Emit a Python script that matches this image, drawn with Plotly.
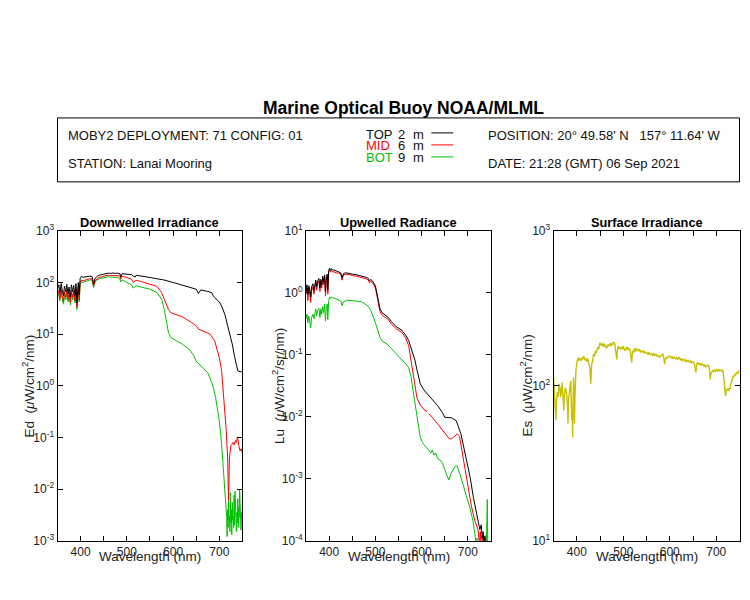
import plotly.graph_objects as go

W, H = 750, 600

# ---------------- DATA ----------------
# Downwelled irradiance Ed (uW/cm^2/nm)
ed_top_wl = [350,353,355,358,360,363,365,368,370,373,375,378,380,383,385,388,390,392,395,397,399,402,405,410,415,420,425,428,431,435,440,445,450,455,460,465,470,475,480,485,487,490,495,500,505,510,514,518,520,530,540,550,565,580,600,620,640,650,655,660,675,684,687,690,700,705,712,718,722,728,733,737,740,745,750]
ed_top = [75,90,62,95,72,55,85,66,92,60,82,52,90,66,88,56,95,40,100,58,120,132,126,128,131,133,130,95,118,130,138,141,148,150,152,150,153,150,152,148,128,148,146,145,141,142,132,128,138,135,130,125,118,112,100,88,78,74,61,72,67,63,55,51,42,35,24,14.5,11.5,6.4,3.7,2.4,1.95,1.87,1.87]

ed_mid_wl = [350,353,355,358,360,363,365,368,370,373,375,378,380,383,385,388,390,392,395,397,399,402,405,410,415,420,425,428,431,435,440,445,450,455,460,465,470,475,480,485,487,490,495,500,505,510,514,518,520,530,540,550,565,575,582,590,595,605,620,640,650,655,665,680,690,700,705,710,715,718,720,722,725,728,730,732,735,737,739,741,742,745,747,750]
ed_mid = [58,70,48,75,56,42,66,52,72,47,64,41,70,52,68,44,75,33,80,46,100,112,108,112,115,118,117,85,108,118,126,128,134,136,138,137,139,137,138,134,116,132,128,124,118,116,100,104,110,105,99,93,84,64,44,30,26,24,21.7,16.8,14.5,12.5,11.3,10,7.4,3.5,1.95,0.59,0.135,0.041,0.006,0.04,0.069,0.075,0.08,0.072,0.087,0.08,0.1,0.085,0.069,0.055,0.06,0.05]

ed_bot_wl = [350,353,355,358,360,363,365,368,370,373,375,378,380,383,385,388,390,392,395,397,399,402,405,410,415,420,425,428,431,435,440,445,450,455,460,465,470,475,480,485,487,490,495,500,505,510,514,518,520,530,540,550,565,575,580,585,590,595,605,620,635,645,650,655,665,675,685,692,700,705,710,714,716,717,718,719,720,721,722,723,724,725,726,727,728,729,730,731,732,733,734,735,736,737,738,739,740,741,742,743,744,745,746,747,748,749,750]
ed_bot = [52,62,44,66,50,38,58,46,64,42,57,37,62,46,60,40,66,30,72,42,92,104,100,105,108,112,111,80,102,112,118,120,126,127,129,127,128,125,124,118,102,112,106,100,95,90,78,82,86,82,78,74,64,48,33,18,10.8,8.6,7.7,6.4,5.1,3.8,3.0,2.7,2.26,1.8,1.08,0.59,0.21,0.074,0.017,0.006,0.0028,0.0012,0.004,0.0018,0.0065,0.0025,0.003,0.0015,0.0085,0.0022,0.004,0.0013,0.0055,0.0025,0.003,0.0018,0.0075,0.002,0.009,0.0028,0.005,0.0015,0.0035,0.0022,0.0065,0.0018,0.0045,0.0028,0.0095,0.003,0.0042,0.0016,0.0035,0.0024,0.004]

# Upwelled radiance Lu (uW/cm^2/sr/nm)
lu_top_wl = [350,352,354,356,358,360,362,365,367,369,371,373,375,378,380,382,384,386,388,390,392,394,396,397,399,401,403,405,408,410,415,420,425,428,431,435,440,445,450,455,460,465,470,475,480,485,487,490,495,500,505,510,514,520,528,535,546,557,565,572,579,585,590,597,605,620,635,645,650,665,675,685,695,705,712,718,722,726,729,731,733,735,737,739,742]
lu_top = [1.05,1.35,0.95,1.3,1.15,0.85,1.25,1.4,1.1,1.45,1.6,1.25,1.55,1.7,1.2,1.65,1.35,1.85,1.5,1.95,1.05,1.9,2.0,1.1,2.3,2.5,2.3,2.45,2.3,2.35,2.25,2.2,2.1,1.75,2.05,2.1,2.1,2.05,2.0,2.0,1.95,1.9,1.88,1.82,1.78,1.7,1.55,1.65,1.5,1.3,0.85,0.55,0.48,0.45,0.4,0.34,0.28,0.25,0.21,0.17,0.12,0.085,0.057,0.034,0.027,0.0205,0.015,0.0117,0.0098,0.0096,0.0086,0.0053,0.0025,0.00105,0.0005,0.0003,0.00021,0.00015,0.00018,0.00011,0.00014,0.00009,0.00012,0.00007,0.00005]

lu_mid_wl = [350,352,354,356,358,360,362,365,367,369,371,373,375,378,380,382,384,386,388,390,392,394,396,397,399,401,403,405,408,410,415,420,425,428,431,435,440,445,450,455,460,465,470,475,480,485,487,490,495,500,505,510,514,520,528,535,546,557,565,572,579,585,590,597,605,612,613,615,620,635,650,660,665,672,677,682,690,700,708,715,722,725,727,729,731,733,736,738,741,743,746,750]
lu_mid = [0.95,1.2,0.75,1.15,1.0,0.7,1.1,1.25,0.95,1.3,1.45,1.1,1.4,1.55,1.05,1.5,1.2,1.7,1.35,1.8,0.9,1.75,1.85,0.95,2.15,2.35,2.15,2.3,2.15,2.2,2.1,2.08,2.0,1.6,1.95,2.0,2.0,1.95,1.9,1.9,1.85,1.8,1.78,1.72,1.68,1.6,1.45,1.55,1.4,1.2,0.78,0.5,0.44,0.41,0.37,0.31,0.26,0.23,0.19,0.14,0.0625,0.032,0.02,0.0155,0.013,0.0122,None,0.0112,0.0104,0.0076,0.0056,0.0044,0.0044,0.005,0.0053,0.0048,0.0022,0.00072,0.00035,0.00021,0.00015,0.00009,0.00014,0.00007,0.00012,0.00008,0.00011,0.00006,0.0001,0.00007,0.00009,0.00006]

lu_bot_wl = [350,352,354,356,358,360,362,365,367,369,371,373,375,378,380,382,384,386,388,390,392,394,396,397,399,401,403,405,408,410,415,420,425,428,431,435,440,445,450,455,460,465,470,475,480,485,490,495,500,505,510,515,525,535,545,555,565,572,577,582,587,592,597,602,607,612,617,620,623,627,630,635,640,645,650,655,659,663,668,673,677,681,686,690,693,698,704,711,715,718,720,722,740,742,743,746]
lu_bot = [0.38,0.45,0.33,0.42,0.35,0.27,0.4,0.45,0.38,0.5,0.55,0.42,0.52,0.56,0.4,0.55,0.45,0.6,0.48,0.65,0.35,0.62,0.66,0.37,0.75,0.85,0.8,0.86,0.82,0.83,0.8,0.78,0.74,0.62,0.72,0.74,0.76,0.75,0.74,0.75,0.73,0.72,0.72,0.68,0.64,0.6,0.52,0.42,0.33,0.25,0.19,0.165,0.15,0.125,0.105,0.088,0.072,0.0625,0.045,0.025,0.014,0.0075,0.0047,0.0038,0.0034,0.003,0.0028,0.0026,0.0029,0.0024,0.0026,0.0021,0.002,0.0018,0.0014,0.0011,0.00095,0.0012,0.0014,0.0016,0.0016,0.0013,0.00105,0.0008,0.00065,0.0005,0.00035,0.00021,0.00013,0.00009,0.00011,0.00007,0.00007,0.00046,0.00008,0.00006]

# Surface irradiance Es (uW/cm^2/nm)
es_wl = [350,351,352,354,355,356,358,360,362,364,365,367,368,370,372,373,375,377,378,380,381,382,384,386,387,388,389,390,391,392,393,394,395,396,397,398,400,402,403,405,407,408,410,412,413,415,417,418,420,422,423,425,427,428,429,430,431,432,434,436,438,440,442,443,445,447,448,450,452,453,455,457,458,460,462,463,465,467,468,470,472,473,475,477,478,480,482,483,485,486,487,488,490,492,493,495,497,498,500,502,503,505,507,508,510,512,513,515,516,517,518,519,520,522,523,525,527,528,530,533,535,537,540,543,545,547,550,553,555,557,560,563,565,567,570,573,575,577,580,582,585,587,588,589,590,592,595,597,600,603,605,607,610,613,615,617,620,623,625,627,630,633,635,637,640,643,645,647,650,652,654,656,657,658,660,663,665,667,670,673,675,677,680,682,684,685,686,687,688,690,692,694,696,698,700,703,705,707,710,712,714,715,716,717,718,719,720,721,722,723,725,727,728,730,731,733,735,737,738,740,742,743,745,747,748,750]
es = [113,100,84,75,60,78,91,85,103,95,84,92,105,88,69,85,97,93,89,75,57,80,97,102,108,85,60,70,46.5,80,113,90,57,85,108,125,141,150,145,152,146,150,145,153,148,155,150,146,148,143,150,141,136,131,115,103,120,138,145,160,155,168,163,170,177,172,183,190,182,186,181,188,178,186,180,176,177,185,180,184,188,181,186,183,190,190,186,172,160,148,165,177,180,172,176,172,178,172,181,175,168,172,178,170,177,170,174,168,160,150,141,155,168,163,172,172,166,175,172,168,172,165,168,164,168,163,164,160,165,159,161,157,162,156,160,155,158,153,155,158,160,152,145,138,145,152,150,155,155,151,154,150,153,149,152,148,152,147,150,145,148,144,147,143,146,142,145,141,143,140,133,122,130,138,141,137,140,136,138,134,137,133,134,136,133,130,118,110,118,122,126,123,127,124,127,124,128,125,127,124,126,122,110,100,95,89,86,90,95,93,96,93,97,95,102,108,113,116,114,119,117,121,122,120,124,125]

# Axis ticks
x_tickvals = [400, 450, 500, 550, 600, 650, 700]
x_ticktext = ["400", "", "500", "", "600", "", "700"]

# ---------------- HELPERS ----------------
# map target-picture pixels to paper coordinates (compensates page offset)
def px(x):
    return (57 + (x - 57) * (682.0 / 686.0) - 7.5) / W

def py(y):
    return 1 - ((y - 16) / 0.974) / H

BLACK = "#000000"
RED = "#ff0000"
GREEN = "#00c000"
OLIVE = "#c8c000"
FONT = "Liberation Sans, Arial, sans-serif"

panels = [
    dict(x0=57, x1=243, yr=(-3, 3), title="Downwelled Irradiance",
         ytitle="Ed  (<i>μ</i>W/cm<sup>2</sup>/nm)", ytx=27),
    dict(x0=307, x1=493, yr=(-4, 1), title="Upwelled Radiance",
         ytitle="Lu  (<i>μ</i>W/cm<sup>2</sup>/sr/nm)", ytx=279),
    dict(x0=556, x1=743, yr=(1, 3), title="Surface Irradiance",
         ytitle="Es  (μW/cm<sup>2</sup>/nm)", ytx=528),
]
PT, PB = 230, 540

fig = go.Figure()

series = [
    (1, ed_bot_wl, ed_bot, GREEN, 1),
    (1, ed_mid_wl, ed_mid, RED, 1),
    (1, ed_top_wl, ed_top, BLACK, 1),
    (2, lu_bot_wl, lu_bot, GREEN, 1),
    (2, lu_mid_wl, lu_mid, RED, 1),
    (2, lu_top_wl, lu_top, BLACK, 1),
    (3, es_wl, es, OLIVE, 1.4),
]
for idx, xs, ys, col, lw in series:
    sfx = "" if idx == 1 else str(idx)
    fig.add_trace(go.Scatter(x=xs, y=ys, mode="lines",
                             line=dict(color=col, width=lw),
                             xaxis="x" + sfx, yaxis="y" + sfx,
                             showlegend=False, hoverinfo="skip",
                             connectgaps=False))

layout = dict(
    width=W, height=H,
    margin=dict(l=0, r=0, t=0, b=0),
    paper_bgcolor="white", plot_bgcolor="white",
    font=dict(family=FONT, size=12, color="#222222"),
    showlegend=False,
)

annotations = []
shapes = []

for i, p in enumerate(panels, start=1):
    sfx = "" if i == 1 else str(i)
    lo, hi = p["yr"]
    yt = [10 ** k for k in range(lo, hi + 1)]
    ytt = ["10<sup>%d</sup>" % k for k in range(lo, hi + 1)]
    layout["xaxis" + sfx] = dict(
        domain=[px(p["x0"]), px(p["x1"])], range=[350, 750],
        anchor="y" + sfx, showline=True, linecolor="black", linewidth=1,
        mirror="ticks", ticks="inside", ticklen=5, tickcolor="black",
        tickvals=x_tickvals, ticktext=x_ticktext, showgrid=False,
        zeroline=False, tickfont=dict(size=12, color="#222222"),
    )
    layout["yaxis" + sfx] = dict(
        domain=[py(PB), py(PT)], type="log", range=[lo, hi],
        anchor="x" + sfx, showline=True, linecolor="black", linewidth=1,
        mirror="ticks", ticks="inside", ticklen=5, tickcolor="black",
        tickvals=yt, ticktext=ytt, showgrid=False, zeroline=False,
        tickfont=dict(size=12, color="#222222"),
    )
    cx = (p["x0"] + p["x1"]) / 2
    annotations.append(dict(x=px(cx), y=py(221.5), xref="paper", yref="paper",
                            text="<b>%s</b>" % p["title"], showarrow=False,
                            font=dict(size=12.8, color="black"),
                            xanchor="center", yanchor="middle"))
    annotations.append(dict(x=px(cx), y=py(556), xref="paper", yref="paper",
                            text="Wavelength (nm)", showarrow=False,
                            font=dict(size=13.5, color="#222222"),
                            xanchor="center", yanchor="middle"))
    annotations.append(dict(x=px(p["ytx"]), y=py(385), xref="paper", yref="paper",
                            text=p["ytitle"], showarrow=False, textangle=-90,
                            font=dict(size=13.5, color="#222222"),
                            xanchor="center", yanchor="middle"))

# Main title
annotations.append(dict(x=px(405), y=py(107), xref="paper", yref="paper",
                        text="<b>Marine Optical Buoy NOAA/MLML</b>", showarrow=False,
                        font=dict(size=17.5, color="black"),
                        xanchor="center", yanchor="middle"))

# Header box
shapes.append(dict(type="rect", xref="paper", yref="paper",
                   x0=px(57), x1=px(743), y0=py(181), y1=py(117),
                   line=dict(color="black", width=1), fillcolor="rgba(0,0,0,0)"))

hdr_font = dict(size=13, color="#111111")
for txt, x, y in [("MOBY2 DEPLOYMENT: 71 CONFIG: 01", 66, 135),
                  ("STATION: Lanai Mooring", 66, 163),
                  ("POSITION: 20° 49.58' N   157° 11.64' W", 488, 135),
                  ("DATE: 21:28 (GMT) 06 Sep 2021", 488, 163)]:
    annotations.append(dict(x=px(x), y=py(y), xref="paper", yref="paper",
                            text=txt.replace("   ", "&nbsp;&nbsp;&nbsp;"),
                            showarrow=False, font=hdr_font,
                            xanchor="left", yanchor="middle"))

legend_rows = [("TOP", "2", BLACK, 133.5, 132),
               ("MID", "6", RED, 145, 144),
               ("BOT", "9", GREEN, 156.5, 156)]
for name, depth, col, ty, ly in legend_rows:
    annotations.append(dict(x=px(365), y=py(ty), xref="paper", yref="paper",
                            text=name, showarrow=False,
                            font=dict(size=13, color=col if col != BLACK else "#111111"),
                            xanchor="left", yanchor="middle"))
    annotations.append(dict(x=px(397), y=py(ty), xref="paper", yref="paper",
                            text=depth, showarrow=False, font=hdr_font,
                            xanchor="left", yanchor="middle"))
    annotations.append(dict(x=px(413), y=py(ty), xref="paper", yref="paper",
                            text="m", showarrow=False, font=hdr_font,
                            xanchor="left", yanchor="middle"))
    shapes.append(dict(type="line", xref="paper", yref="paper",
                       x0=px(433), x1=px(455), y0=py(ly), y1=py(ly),
                       line=dict(color=col, width=1)))

layout["annotations"] = annotations
layout["shapes"] = shapes
fig.update_layout(**layout)

fig.write_html("out.html")
